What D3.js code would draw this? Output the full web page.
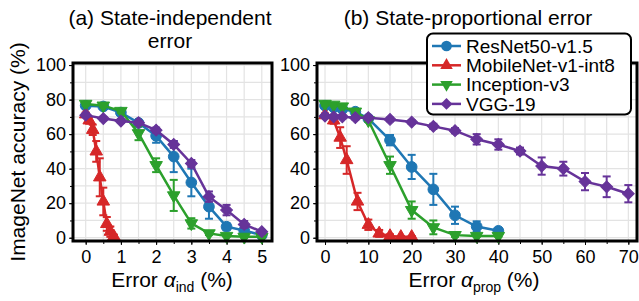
<!DOCTYPE html>
<html>
<head>
<meta charset="utf-8">
<script src="https://cdn.jsdelivr.net/npm/d3@7"></script>
<style>
  body { margin: 0; background: #fff; }
  text { font-family: "Liberation Sans", Arial, sans-serif; fill: #000; }
</style>
</head>
<body>
<div id="chartbox"></div>
<script>
// panel (a): state-independent error
const xInd = [0, 0.5, 1, 1.5, 2, 2.5, 3, 3.5, 4, 4.5, 5]
const resnetInd = [76.5, 76, 72.5, 66.5, 59, 47, 32, 18, 6.4, 4.2, 1.5]
const resnetIndErr = [1, 1, 1, 1.5, 4, 9, 8, 7, 2, 1, 0.5]
const xMobInd = [0, 0.1, 0.2, 0.3, 0.4, 0.5, 0.6, 0.7, 0.8]
const mobileInd = [71.5, 68, 62.5, 50, 35, 21, 8, 3.5, 0.8]
const mobileIndErr = [1, 2, 3, 6, 11, 8, 4, 3, 1]
const inceptionInd = [77.5, 76.5, 73.4, 60.5, 42, 24.5, 8.3, 2.5, 1, 0.5, 0.5]
const inceptionIndErr = [1, 1, 1, 4, 4, 9, 3, 1, 0.5, 0.5, 0.5]
const vggInd = [71, 69, 67.6, 66.6, 62.3, 54, 43, 23.8, 16, 7.7, 3.5]
const vggIndErr = [1, 1, 1, 1, 1.5, 2, 2, 3, 3, 2, 1]

// panel (b): state-proportional error
const xProp = [0, 2, 4, 7, 10, 15, 20, 25, 30, 35, 40]
const resnetProp = [76.5, 75.5, 74.5, 73, 69, 56.5, 41, 28, 13, 6.5, 4]
const resnetPropErr = [1, 1, 1, 1, 1, 3, 7, 9, 5, 3, 1]
const xMobProp = [0, 2, 3.5, 5, 7.5, 10, 12.5, 15, 17.5, 20]
const mobileProp = [71, 68, 58, 45, 21, 7.5, 2.5, 1, 0.5, 0.5]
const mobilePropErr = [1, 2, 6, 8, 5, 3, 2, 1, 0.5, 0.5]
const inceptionProp = [77.5, 77, 76, 73, 68, 42, 16, 6, 1.5, 1, 1]
const inceptionPropErr = [1, 1, 1, 1, 1, 5, 5, 4, 1, 0.5, 0.5]
const xVggProp = [0, 2, 4, 7, 10, 15, 20, 25, 30, 35, 40, 45, 50, 55, 60, 65, 70]
const vggProp = [70.5, 70, 70, 69.5, 69.5, 68.5, 67, 64.5, 62, 57, 54, 50.2, 41.5, 40, 32.5, 29.5, 25.5]
const vggPropErr = [1, 1, 1, 1, 1, 1, 1, 1.5, 1.5, 3, 3, 2, 5, 4, 5, 6, 5]

const modelNames = ['ResNet50-v1.5', 'MobileNet-v1-int8', 'Inception-v3', 'VGG-19']
const colors = ['#1f77b4', '#d62728', '#2ca02c', '#663399']
const yTicks = [0, 20, 40, 60, 80, 100]

const svg = d3.select('#chartbox')
  .append('svg')
  .attr('width', 639)
  .attr('height', 301)

const y = d3.scaleLinear().domain([-1.9, 101.2]).range([241, 63])

const markers = [
  { type: d3.symbolCircle, size: 90, rot: 0 },
  { type: d3.symbolTriangle, size: 68, rot: 0 },
  { type: d3.symbolTriangle, size: 68, rot: 180 },
  { type: d3.symbolSquare, size: 70, rot: 45 }
]

function drawPanel(cfg) {
  const x = d3.scaleLinear().domain(cfg.domain).range(cfg.range)
  const g = svg.append('g')
  const [x0, x1] = cfg.range

  // grid
  g.selectAll('.vgrid')
    .data(cfg.grid)
    .enter()
    .append('line')
    .attr('x1', d => x(d)).attr('x2', d => x(d))
    .attr('y1', y.range()[0]).attr('y2', y.range()[1])
    .attr('stroke', '#e3e3e3').attr('stroke-width', 1.2)
  g.selectAll('.hgrid')
    .data(d3.range(0, 101, 10))
    .enter()
    .append('line')
    .attr('x1', x0).attr('x2', x1)
    .attr('y1', d => y(d)).attr('y2', d => y(d))
    .attr('stroke', '#e3e3e3').attr('stroke-width', 1.2)

  // axes
  const xAxis = g.append('g')
    .attr('transform', 'translate(0,' + y.range()[0] + ')')
    .call(d3.axisBottom(x).tickValues(cfg.labels).tickFormat(d3.format('d')).tickSize(4).tickPadding(4))
  xAxis.append('g').call(d3.axisBottom(x).tickValues(cfg.grid).tickSize(3).tickFormat(''))
  const yAxis = g.append('g')
    .attr('transform', 'translate(' + x0 + ',0)')
    .call(d3.axisLeft(y).tickValues(yTicks).tickSize(4).tickPadding(3))
  yAxis.append('g').call(d3.axisLeft(y).tickValues(d3.range(0, 101, 10)).tickSize(3).tickFormat(''))
  ;[xAxis, yAxis].forEach(a => {
    a.selectAll('.domain').remove()
    a.selectAll('line').attr('stroke', '#000').attr('stroke-width', 1)
    a.selectAll('text').style('font-size', '18px').attr('fill', '#000')
  })
  xAxis.selectAll('text').attr('dy', '0.75em')

  // series
  const line = d3.line().x(d => x(d.x)).y(d => y(d.y))
  cfg.series.forEach((s, i) => {
    const pts = s.xs.map((xv, j) => ({ x: xv, y: s.ys[j], e: s.err[j] }))
    const sg = g.append('g')
    sg.append('path')
      .datum(pts)
      .attr('d', line)
      .attr('fill', 'none')
      .attr('stroke', colors[i])
      .attr('stroke-width', 2.5)
    const eb = sg.selectAll('.eb').data(pts).enter().append('g')
    eb.append('line')
      .attr('x1', d => x(d.x)).attr('x2', d => x(d.x))
      .attr('y1', d => y(d.y - d.e)).attr('y2', d => y(d.y + d.e))
      .attr('stroke', colors[i]).attr('stroke-width', 2)
    ;[-1, 1].forEach(sgn => {
      eb.append('line')
        .attr('x1', d => x(d.x) - 4).attr('x2', d => x(d.x) + 4)
        .attr('y1', d => y(d.y + sgn * d.e)).attr('y2', d => y(d.y + sgn * d.e))
        .attr('stroke', colors[i]).attr('stroke-width', 2)
    })
    const m = markers[i]
    sg.selectAll('.mk').data(pts).enter()
      .append('path')
      .attr('d', d3.symbol().type(m.type).size(m.size))
      .attr('transform', d => 'translate(' + x(d.x) + ',' + y(d.y) + ') rotate(' + m.rot + ')')
      .attr('fill', colors[i])
      .attr('stroke', colors[i])
      .attr('stroke-width', 1)
  })

  // frame
  g.append('rect')
    .attr('x', x0).attr('y', y.range()[1])
    .attr('width', x1 - x0).attr('height', y.range()[0] - y.range()[1])
    .attr('fill', 'none').attr('stroke', '#000').attr('stroke-width', 3)

  // x label
  const lab = g.append('text')
    .attr('x', cfg.labelX).attr('y', 287)
    .attr('text-anchor', 'middle')
    .style('font-size', '21px')
  lab.append('tspan').text('Error ')
  lab.append('tspan').attr('font-style', 'italic').text('α')
  lab.append('tspan').attr('dy', 5).style('font-size', '14px').text(cfg.sub)
  lab.append('tspan').attr('dy', -5).text(' (%)')

  cfg.title.forEach((t, k) => {
    g.append('text')
      .attr('x', cfg.titleX).attr('y', 25 + k * 23)
      .attr('text-anchor', 'middle')
      .style('font-size', '21px')
      .text(t)
  })
}

drawPanel({
  domain: [-0.36, 5.29], range: [73, 272],
  grid: d3.range(0, 5.01, 0.5), labels: [0, 1, 2, 3, 4, 5],
  sub: 'ind', labelX: 172, titleX: 170,
  title: ['(a) State-independent', 'error'],
  series: [
    { xs: xInd, ys: resnetInd, err: resnetIndErr },
    { xs: xMobInd, ys: mobileInd, err: mobileIndErr },
    { xs: xInd, ys: inceptionInd, err: inceptionIndErr },
    { xs: xInd, ys: vggInd, err: vggIndErr }
  ]
})

drawPanel({
  domain: [-1.85, 72], range: [317, 637],
  grid: d3.range(0, 71, 5), labels: [0, 10, 20, 30, 40, 50, 60, 70],
  sub: 'prop', labelX: 474, titleX: 468,
  title: ['(b) State-proportional error'],
  series: [
    { xs: xProp, ys: resnetProp, err: resnetPropErr },
    { xs: xMobProp, ys: mobileProp, err: mobilePropErr },
    { xs: xProp, ys: inceptionProp, err: inceptionPropErr },
    { xs: xVggProp, ys: vggProp, err: vggPropErr }
  ]
})

// y label
svg.append('text')
  .attr('transform', 'translate(25,152) rotate(-90)')
  .attr('text-anchor', 'middle')
  .style('font-size', '21px')
  .text('ImageNet accuracy (%)')

// legend
const legend = svg.append('g')
legend.append('rect')
  .attr('x', 427).attr('y', 33.5)
  .attr('width', 204).attr('height', 81)
  .attr('rx', 6)
  .attr('fill', '#fff').attr('stroke', '#000').attr('stroke-width', 2)

const items = legend.selectAll('.li')
  .data(modelNames)
  .enter()
  .append('g')
  .attr('transform', (d, i) => 'translate(0,' + (46 + i * 19.3) + ')')
items.append('line')
  .attr('x1', 432).attr('x2', 461)
  .attr('stroke', (d, i) => colors[i]).attr('stroke-width', 2.5)
items.append('path')
  .attr('d', (d, i) => d3.symbol().type(markers[i].type).size(markers[i].size)())
  .attr('transform', (d, i) => 'translate(446.5,0) rotate(' + markers[i].rot + ')')
  .attr('fill', (d, i) => colors[i])
items.append('text')
  .attr('x', 466).attr('dy', '0.35em')
  .style('font-size', '19px')
  .text(d => d)
</script>
</body>
</html>
